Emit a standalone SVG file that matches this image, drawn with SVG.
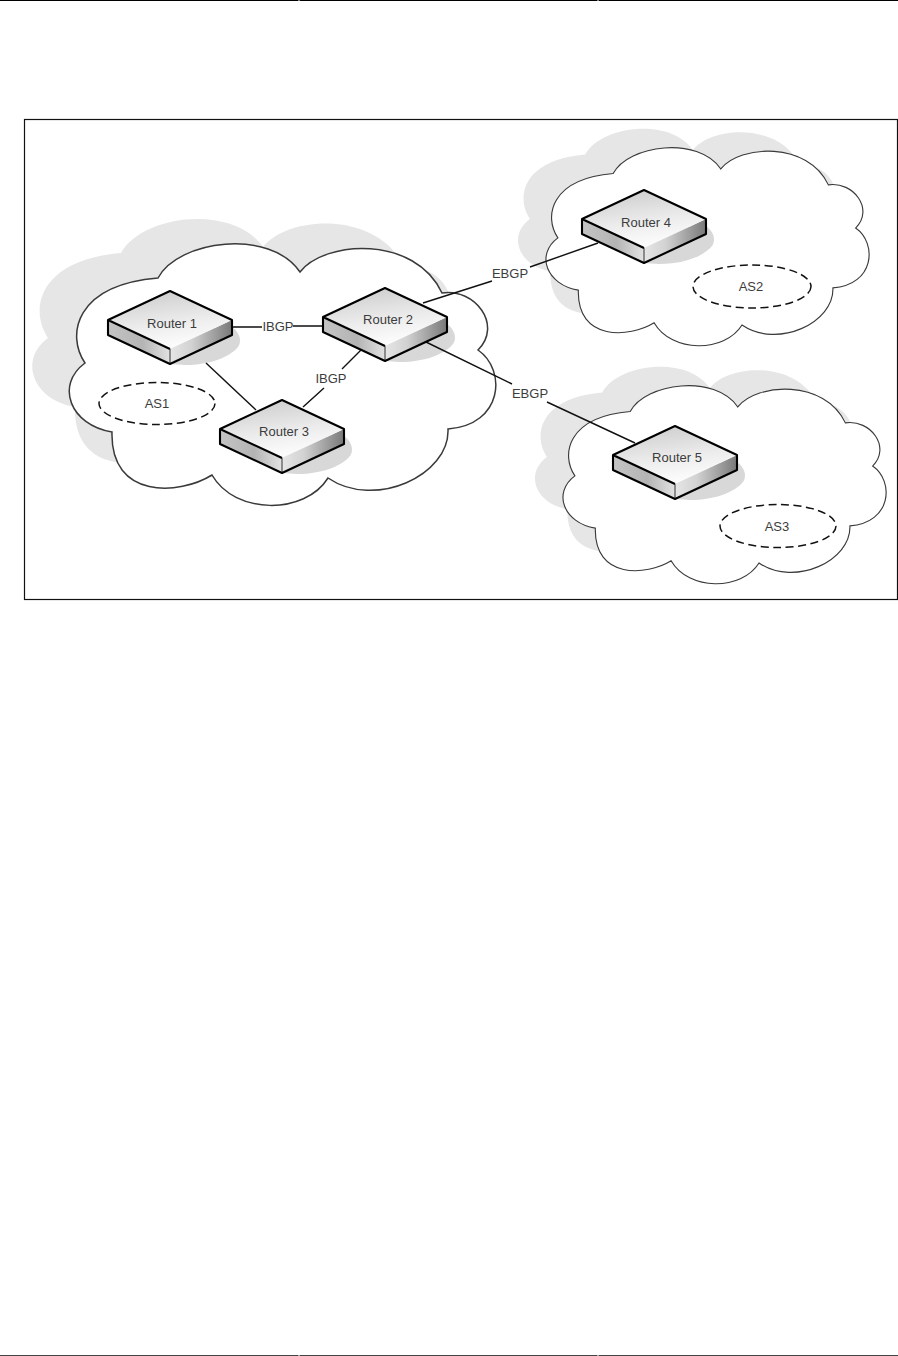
<svg xmlns="http://www.w3.org/2000/svg" width="898" height="1356" viewBox="0 0 898 1356">
<style>
text{font-family:"Liberation Sans",Arial,sans-serif;font-size:13px;fill:#3c3c3c;text-anchor:middle;dominant-baseline:central}
.cloud{fill:#fff;stroke:#3a3a3a;stroke-width:1.5;vector-effect:non-scaling-stroke}
.cshadow{fill:#e6e6e6;stroke:none}
.as{fill:none;stroke:#111;stroke-width:1.5;stroke-dasharray:8 4.5}
.conn{stroke:#111;stroke-width:1.4;fill:none}
.edge{stroke:#000;stroke-width:2.1;stroke-linejoin:round;fill:none}
.rule{stroke:#000;stroke-width:1;fill:none}
</style>
<defs>
<path id="cloudShape" d="M85,363C66,335 75,285 158,278C178,240 270,228 300,272C325,240 415,235 442,293C475,288 503,325 478,350C507,370 503,425 448,429C450,475 375,510 328,478C305,515 235,515 212,475C180,495 110,500 112,432C70,425 55,385 85,363Z"/>
<linearGradient id="topFace" x1="0.3" y1="0" x2="0.6" y2="1"><stop offset="0" stop-color="#cdcdcd"/><stop offset="0.55" stop-color="#ececec"/><stop offset="1" stop-color="#fff"/></linearGradient>
<linearGradient id="leftFace" x1="0" y1="0" x2="1" y2="0"><stop offset="0" stop-color="#c4c4c4"/><stop offset="0.55" stop-color="#b4b4b4"/><stop offset="1" stop-color="#e2e2e2"/></linearGradient>
<linearGradient id="rightFace" x1="0" y1="0" x2="1" y2="0"><stop offset="0" stop-color="#e6e6e6"/><stop offset="0.35" stop-color="#d2d2d2"/><stop offset="1" stop-color="#787878"/></linearGradient>
<path id="routerShadow" d="M62,36C70,42 72,50 68,56C60,66 40,74 15,74L0,73L0,40Z" fill="#d8d8d8"/>
<g id="router">
<path d="M-62,29L0,58V73L-62,44Z" fill="url(#leftFace)"/>
<path d="M62,29L0,58V73L62,44Z" fill="url(#rightFace)"/>
<path d="M0,0L62,29L0,58L-62,29Z" fill="url(#topFace)"/>
<path d="M0,58V73" stroke="#333" stroke-width="1" fill="none"/>
<path class="edge" d="M0,0L62,29V44L0,73L-62,44V29ZM-62,29L0,58"/>
</g>
</defs>
<g id="page-rules">
<path class="rule" d="M0,0.5H298.5M299.5,0.5H597.5M598.5,0.5H898"/>
<path class="rule" style="stroke:#444" d="M0,1355.5H298.5M299.5,1355.5H597.5M598.5,1355.5H898"/>
</g>
<rect id="frame" x="24.5" y="119.5" width="873" height="480" fill="#fff" stroke="#111" stroke-width="1.2"/>
<g id="cloud-as1">
<use href="#cloudShape" class="cshadow" transform="translate(-37,-25)"/>
<use href="#cloudShape" class="cloud"/>
<ellipse class="as" cx="157" cy="403.5" rx="58" ry="21"/>
<text x="157" y="403">AS1</text>
</g>
<g id="cloud-as2">
<use href="#cloudShape" class="cshadow" transform="translate(465.5,-56.1) scale(0.7576)"/>
<use href="#cloudShape" class="cloud" transform="translate(493.5,-37.1) scale(0.7576)"/>
<ellipse class="as" cx="752" cy="286.5" rx="59" ry="21.5"/>
<text x="751" y="286">AS2</text>
</g>
<g id="cloud-as3">
<use href="#cloudShape" class="cshadow" transform="translate(482.5,181.9) scale(0.7576)"/>
<use href="#cloudShape" class="cloud" transform="translate(510.5,200.9) scale(0.7576)"/>
<ellipse class="as" cx="778" cy="526" rx="58" ry="21.5"/>
<text x="777" y="526">AS3</text>
</g>
<g id="router-shadows">
<use href="#routerShadow" transform="translate(170,291)"/>
<use href="#routerShadow" transform="translate(385,288)"/>
<use href="#routerShadow" transform="translate(282,400)"/>
<use href="#routerShadow" transform="translate(644,190)"/>
<use href="#routerShadow" transform="translate(675,426)"/>
</g>
<g id="connectors">
<path class="conn" d="M232,327H262M293,326H323"/>
<path class="conn" d="M206,363L256,410"/>
<path class="conn" d="M361,350L342,369M324,388L303,407"/>
<path class="conn" d="M423,303L492,281M530,267L598,243"/>
<path class="conn" d="M426,342L512,384M547,402L635,443"/>
<text x="278" y="326">IBGP</text>
<text x="331" y="378">IBGP</text>
<text x="510" y="273">EBGP</text>
<text x="530" y="393">EBGP</text>
</g>
<g id="router-1"><use href="#router" transform="translate(170,291)"/><text x="172" y="323">Router 1</text></g>
<g id="router-2"><use href="#router" transform="translate(385,288)"/><text x="388" y="319">Router 2</text></g>
<g id="router-3"><use href="#router" transform="translate(282,400)"/><text x="284" y="431">Router 3</text></g>
<g id="router-4"><use href="#router" transform="translate(644,190)"/><text x="646" y="222">Router 4</text></g>
<g id="router-5"><use href="#router" transform="translate(675,426)"/><text x="677" y="457">Router 5</text></g>
</svg>
